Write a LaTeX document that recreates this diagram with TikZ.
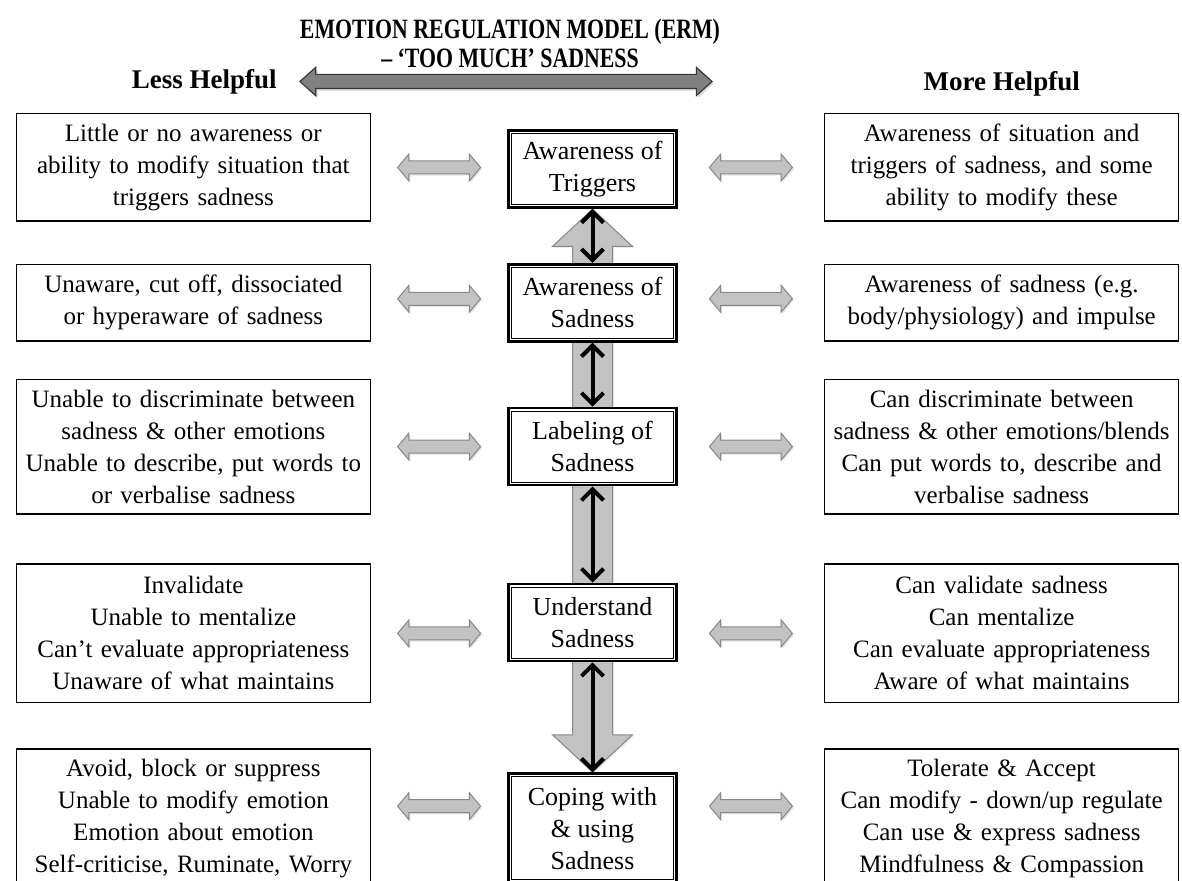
\documentclass[tikz,border=0pt]{standalone}
\usepackage{fontspec}
\setmainfont{Liberation Serif}
\usetikzlibrary{positioning, calc}
\usetikzlibrary{backgrounds}
\usetikzlibrary{shapes.arrows, shadows}
\usetikzlibrary{arrows.meta}
\definecolor{arrowfill}{RGB}{194,194,194}
\definecolor{arrowline}{RGB}{135,135,135}
\definecolor{scalefill}{RGB}{128,128,128}
\definecolor{scaleline}{RGB}{55,55,55}
\newcommand{\condensed}[1]{\scalebox{0.78}[1]{#1}}
\tikzset{
	side/.style={draw, line width=0.75pt, inner sep=0pt, minimum width=177pt, text width=177pt, align=center, font=\fontsize{12.5}{16}\selectfont},
	level/.style={draw, line width=1.4pt, fill=white, inner sep=0pt, minimum width=84pt, minimum height=38.5pt, align=center, font=\fontsize{13}{16}\selectfont,
		path picture={\draw[line width=0.4pt] ([shift={(1.5pt,-1.5pt)}]path picture bounding box.north west) rectangle ([shift={(-1.5pt,1.5pt)}]path picture bounding box.south east);}},
	sidearrow/.style={double arrow, draw=arrowline, fill=arrowfill, line width=0.5pt, inner xsep=0pt, inner ysep=3pt, minimum height=41.5pt, minimum width=13pt, double arrow head extend=3.5pt, double arrow tip angle=100, drop shadow={shadow xshift=0.8pt, shadow yshift=-0.8pt, opacity=0.2}},
	spine/.style={double arrow, rotate=90, draw=arrowline, fill=arrowfill, line width=0.5pt, inner xsep=0pt, inner ysep=9.75pt, minimum height=281.5pt, minimum width=39.5pt, double arrow head extend=10pt, double arrow tip angle=94, drop shadow={shadow xshift=0.8pt, shadow yshift=-0.8pt, opacity=0.15}},
	scalearrow/.style={double arrow, draw=scaleline, fill=scalefill, line width=0.6pt, inner xsep=0pt, inner ysep=3.25pt, minimum height=206pt, minimum width=13.5pt, double arrow head extend=3.5pt, double arrow tip angle=84, drop shadow={shadow xshift=1pt, shadow yshift=-1pt, opacity=0.3}},
	heading/.style={font=\bfseries\fontsize{14}{14.5}\selectfont, align=center, inner sep=0pt},
	helpful/.style={font=\bfseries\fontsize{13.5}{16}\selectfont, inner sep=0pt}
}
\begin{document}
\begin{tikzpicture}
	\useasboundingbox (0,0) rectangle (591pt,-440.5pt);
	% scale and title
	\node (scale) [scalearrow] at (253pt,-40.75pt) {};
	\node (title) [heading, above=3pt of scale, xshift=2pt] {\condensed{EMOTION REGULATION MODEL (ERM)}\\\condensed{– ‘TOO MUCH’ SADNESS}};
	\node (less) [helpful, left=11pt of scale] {Less Helpful};
	
	% centre column
	\node (c1) [level] at (296.25pt,-84.5pt) {Awareness of\\Triggers};
	\node (c2) [level, below=27pt of c1] {Awareness of\\Sadness};
	\node (c3) [level, below=32pt of c2] {Labeling of\\Sadness};
	\node (c4) [level, below=48pt of c3] {Understand\\Sadness};
	\node (c5) [level, below=55pt of c4, minimum height=54.5pt] {Coping with\\\& using\\Sadness};
	
	% less helpful
	\node (l1) [side, left=68pt of c1, minimum height=53.75pt, yshift=0.75pt] {Little or no awareness or\\ability to modify situation that\\triggers sadness};
	\node (l2) [side, left=68pt of c2, minimum height=38.25pt] {Unaware, cut off, dissociated\\or hyperaware of sadness};
	\node (l3) [side, left=68pt of c3, minimum height=67.25pt] {Unable to discriminate between\\sadness \& other emotions\\Unable to describe, put words to\\or verbalise sadness};
	\node (l4) [side, left=68pt of c4, minimum height=69.25pt, yshift=-5.5pt] {Invalidate\\Unable to mentalize\\Can’t evaluate appropriateness\\Unaware of what maintains};
	\node (l5) [side, left=68pt of c5, minimum height=69.25pt, yshift=5pt] {Avoid, block or suppress\\Unable to modify emotion\\Emotion about emotion\\Self-criticise, Ruminate, Worry};
	
	% more helpful
	\node (r1) [side, right=73pt of c1, minimum height=53.75pt, yshift=0.75pt] {Awareness of situation and\\triggers of sadness, and some\\ability to modify these};
	\node (r2) [side, right=73pt of c2, minimum height=38.25pt] {Awareness of sadness (e.g.\\body/physiology) and impulse};
	\node (r3) [side, right=73pt of c3, minimum height=67.25pt] {Can discriminate between\\sadness \& other emotions/blends\\Can put words to, describe and\\verbalise sadness};
	\node (r4) [side, right=73pt of c4, minimum height=69.25pt, yshift=-5.5pt] {Can validate sadness\\Can mentalize\\Can evaluate appropriateness\\Aware of what maintains};
	\node (r5) [side, right=73pt of c5, minimum height=69.25pt, yshift=5pt] {Tolerate \& Accept\\Can modify - down/up regulate\\Can use \& express sadness\\Mindfulness \& Compassion};
	\node (more) [helpful, above=8pt of r1] {More Helpful};
	
	% grey arrows between the columns
	\path (l1.east) -- node[sidearrow] (la1) {} (l1.east -| c1.west);
	\path ($(l2.east)+(0,2pt)$) -- node[sidearrow] (la2) {} ($(l2.east -| c2.west)+(0,2pt)$);
	\path (l3.east) -- node[sidearrow] (la3) {} (l3.east -| c3.west);
	\path (l4.east) -- node[sidearrow] (la4) {} (l4.east -| c4.west);
	\path ($(l5.east)+(0,6pt)$) -- node[sidearrow] (la5) {} ($(l5.east -| c5.west)+(0,6pt)$);
	\path (r1.west -| c1.east) -- node[sidearrow] (ra1) {} (r1.west);
	\path ($(r2.west -| c2.east)+(0,2pt)$) -- node[sidearrow] (ra2) {} ($(r2.west)+(0,2pt)$);
	\path (r3.west -| c3.east) -- node[sidearrow] (ra3) {} (r3.west);
	\path (r4.west -| c4.east) -- node[sidearrow] (ra4) {} (r4.west);
	\path ($(r5.west -| c5.east)+(0,6pt)$) -- node[sidearrow] (ra5) {} ($(r5.west)+(0,6pt)$);
	
	\begin{scope}[on background layer]
		\path (c1.south) -- node[spine] (flow) {} (c5.north);
	\end{scope}
	
	\begin{scope}[line width=2pt, black, <->, >={Straight Barb[length=5.5pt, width=11pt]}]
		\draw (c1) -- (c2);
		\draw (c2) -- (c3);
		\draw (c3) -- (c4);
		\draw (c4) -- (c5);
	\end{scope}
\end{tikzpicture}
\end{document}
